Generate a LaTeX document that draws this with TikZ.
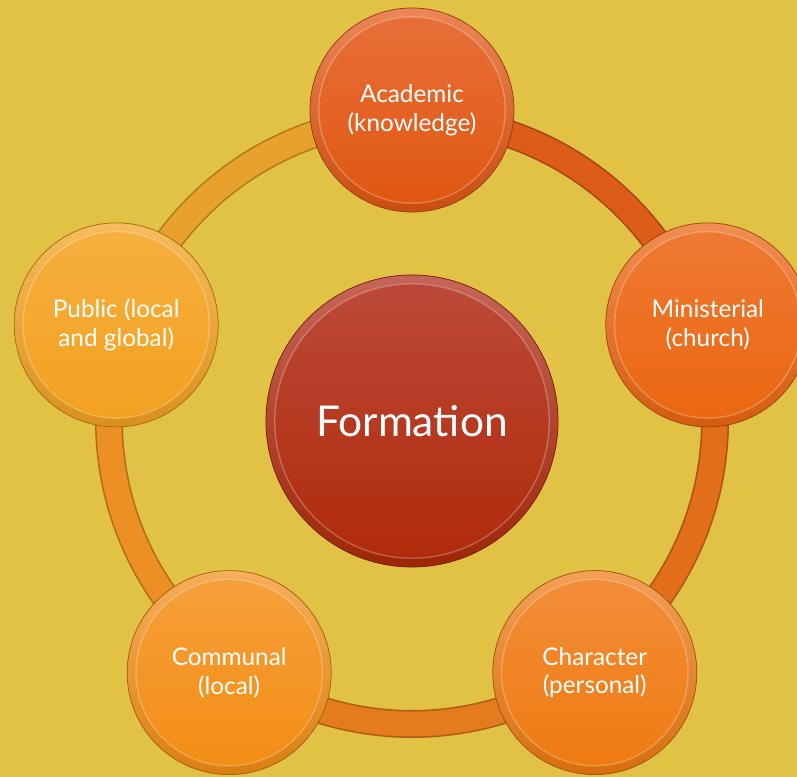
\documentclass[tikz,border=0pt]{standalone}
\usepackage{fontspec}
\setmainfont{Lato}
\definecolor{bgyellow}{HTML}{E2C244}
\definecolor{ringA}{HTML}{E8A22C}
\definecolor{ringB}{HTML}{DC5C18}
\definecolor{ringC}{HTML}{E26E1A}
\definecolor{ringD}{HTML}{E47C1E}
\definecolor{ringE}{HTML}{EC9024}
\definecolor{formtop}{HTML}{BC4A3A}
\definecolor{formbot}{HTML}{B02A08}
\definecolor{acadtop}{HTML}{E8703A}
\definecolor{acadbot}{HTML}{E0560F}
\definecolor{minitop}{HTML}{EF7A34}
\definecolor{minibot}{HTML}{EB660F}
\definecolor{chartop}{HTML}{F28E3A}
\definecolor{charbot}{HTML}{EF7A0F}
\definecolor{commtop}{HTML}{F6A03C}
\definecolor{commbot}{HTML}{F38D12}
\definecolor{pubtop}{HTML}{F6B040}
\definecolor{pubbot}{HTML}{F3A01E}
\tikzset{
  ringedge/.style={line width=0.7cm, draw=#1!75!black},
  ringfill/.style={line width=0.62cm, draw=#1},
  ball/.style n args={3}{circle, inner sep=0pt, minimum size=#1,
    text=white, align=center, draw=#3!65!black, line width=0.5pt,
    top color=#2!85!white, bottom color=#3!90!black,
    path picture={\draw[draw=white, draw opacity=0.25, line width=1pt,
      top color=#2, bottom color=#3]
      (path picture bounding box.center) circle[radius={#1/2-0.22cm}];}},
  small/.style={font=\fontsize{17.3}{20.5}\selectfont},
}
\begin{document}
\begin{tikzpicture}[x=0.025cm, y=0.025cm]
  \fill[bgyellow] (-412,-356) rectangle (385,421);
  \useasboundingbox (-412,-356) rectangle (385,421);
  % ring behind the circles
  \foreach \a/\b/\c in {162/90/ringA, 90/18/ringB, 18/-54/ringC, -54/-126/ringD, -126/-198/ringE}{
    \draw[ringedge=\c] (\a:303) arc[start angle=\a, end angle=\b, radius=303];
    \draw[ringfill=\c] (\a:303) arc[start angle=\a, end angle=\b, radius=303];
  }
  % centre
  \node[ball={7.3cm}{formtop}{formbot}, font=\fontsize{30.2}{34}\selectfont] (formation) at (0,0) {Formation};
  % outer circles
  \node[ball={5.1cm}{acadtop}{acadbot}, small] (academic) at (90:311) {Academic\\(knowledge)};
  \node[ball={5.1cm}{minitop}{minibot}, small] (ministerial) at (18:311) {Ministerial\\(church)};
  \node[ball={5.1cm}{chartop}{charbot}, small] (character) at (-54:311) {Character\\(personal)};
  \node[ball={5.1cm}{commtop}{commbot}, small] (communal) at (-126:311) {Communal\\(local)};
  \node[ball={5.1cm}{pubtop}{pubbot}, small] (public) at (162:311) {Public (local\\and global)};
\end{tikzpicture}
\end{document}
